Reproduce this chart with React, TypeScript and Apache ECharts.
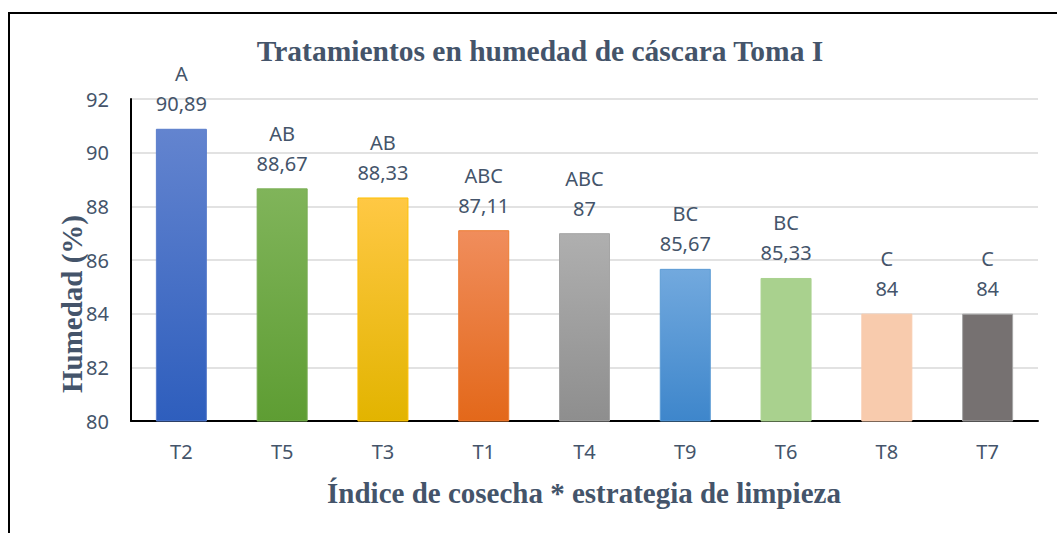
import React, { useEffect, useRef } from "react";
import * as echarts from "echarts";

const categories = ["T2", "T5", "T3", "T1", "T4", "T9", "T6", "T8", "T7"];
const values = [90.89, 88.67, 88.33, 87.11, 87, 85.67, 85.33, 84, 84];
const letters = ["A", "AB", "AB", "ABC", "ABC", "BC", "BC", "C", "C"];
const yTicks = [80, 82, 84, 86, 88, 90, 92];

const topColors = ["#6384CF", "#80B45A", "#FFC844", "#F08D5C", "#AFAFAF", "#72A9DE", "#A9D18E", "#F8CBAD", "#767171"];
const bottomColors = ["#2E5EBD", "#5E9D33", "#E2B400", "#E3681A", "#8E8E8E", "#3E86CB", "#A9D18E", "#F8CBAD", "#767171"];
const borderColors = ["#5A7ECB", "#7AAE54", "#FFC000", "#ED7D31", "#A5A5A5", "#5B9BD5", "#A9D18E", "#F8CBAD", "#A6A6A6"];

const fmt = (v: number) => String(v).replace(".", ",");

export default function App() {
  const ref = useRef<HTMLDivElement>(null);
  useEffect(() => {
    if (!ref.current) return;
    const chart = echarts.init(ref.current, null, { renderer: "svg" });
    const text = "#44546A";
    const serif = { fontFamily: "Liberation Serif", fontWeight: "bold" as const, color: text };
    chart.setOption({
      animation: false,
      backgroundColor: "#ffffff",
      graphic: [
        {
          type: "rect",
          shape: { x: 9, y: 13, width: 1100, height: 600 },
          style: { fill: "none", stroke: "#000000", lineWidth: 2 },
          silent: true,
        },
        {
          type: "text",
          x: 540,
          y: 51,
          style: {
            text: "Tratamientos en humedad de cáscara Toma I",
            ...serif,
            fill: text,
            fontSize: 29.5,
            align: "center",
            verticalAlign: "middle",
          },
          silent: true,
        },
        {
          type: "text",
          x: 584,
          y: 493,
          style: {
            text: "Índice de cosecha * estrategia de limpieza",
            ...serif,
            fill: text,
            fontSize: 29,
            align: "center",
            verticalAlign: "middle",
          },
          silent: true,
        },
        {
          type: "text",
          x: 72,
          y: 304,
          rotation: Math.PI / 2,
          style: {
            text: "Humedad (%)",
            ...serif,
            fill: text,
            fontSize: 29,
            align: "center",
            verticalAlign: "middle",
          },
          silent: true,
        },
      ],
      grid: { left: 131, right: 19, top: 99, bottom: 112, containLabel: false },
      xAxis: {
        type: "category",
        data: categories,
        axisLine: { lineStyle: { color: "#000000", width: 2 } },
        axisTick: { show: false },
        axisLabel: { color: text, fontSize: 20, fontFamily: "Noto Sans", margin: 20 },
      },
      yAxis: {
        type: "value",
        min: yTicks[0],
        max: yTicks[yTicks.length - 1],
        interval: 2,
        axisLine: { show: true, lineStyle: { color: "#000000", width: 2 } },
        axisTick: { show: false },
        splitLine: { lineStyle: { color: "#D9D9D9", width: 1.5 } },
        axisLabel: { color: text, fontSize: 20, fontFamily: "Noto Sans", margin: 22 },
      },
      series: [
        {
          type: "bar",
          barWidth: 51,
          data: values.map((v, i) => ({
            value: v,
            itemStyle: {
              color: new echarts.graphic.LinearGradient(0, 0, 0, 1, [
                { offset: 0, color: topColors[i] },
                { offset: 1, color: bottomColors[i] },
              ]),
              borderColor: borderColors[i],
              borderWidth: 1,
            },
            label: {
              show: true,
              position: "top",
              distance: 10,
              formatter: () => letters[i] + "\n" + fmt(v),
              color: text,
              fontSize: 20,
              fontFamily: "Noto Sans",
              lineHeight: 30,
            },
          })),
        },
      ],
    });
    return () => chart.dispose();
  }, []);
  return <div ref={ref} style={{ position: "absolute", left: 0, top: 0, width: 1057, height: 533 }} />;
}
